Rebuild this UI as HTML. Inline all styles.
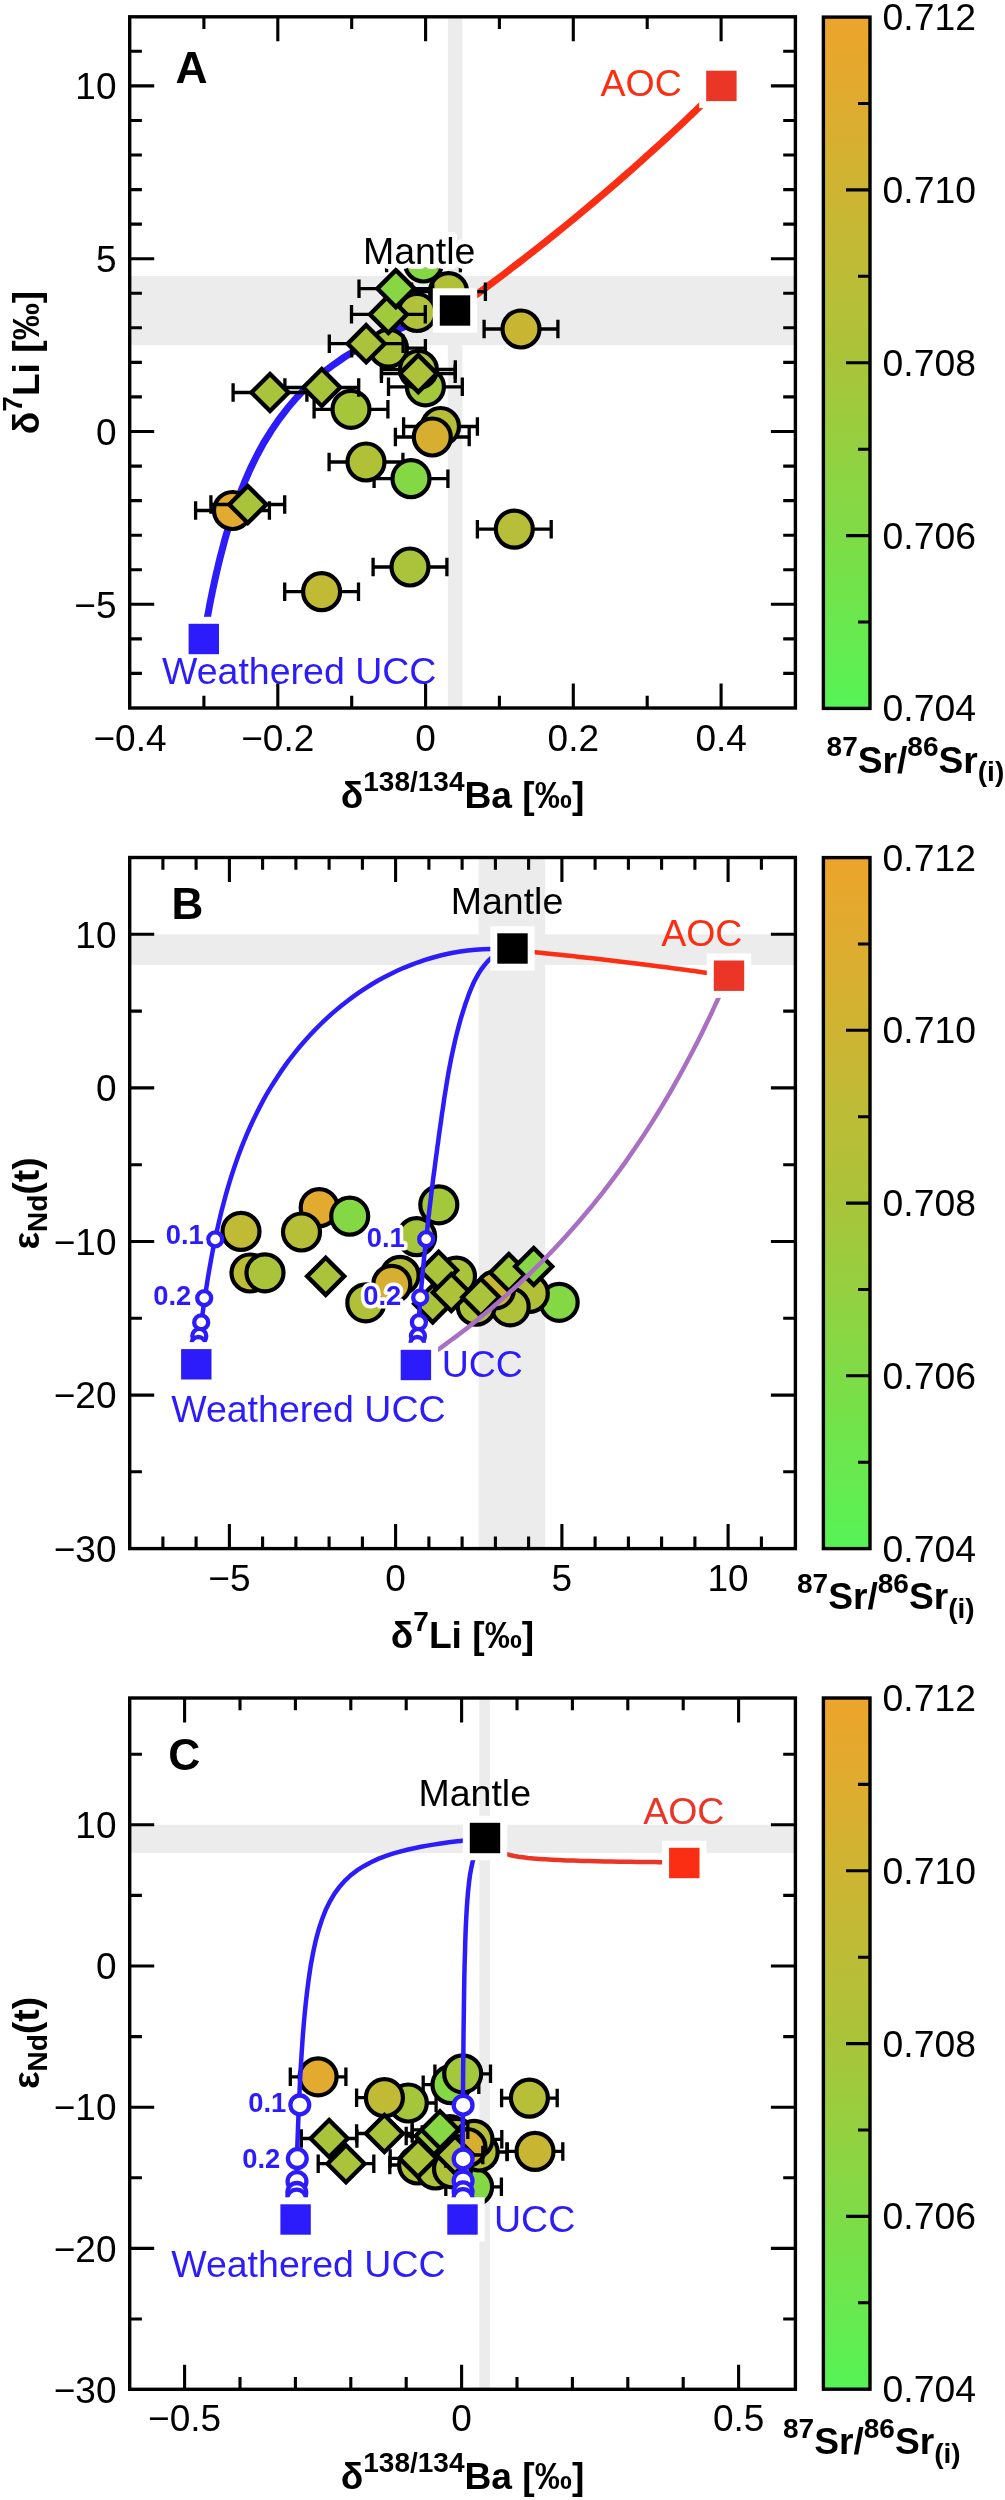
<!DOCTYPE html><html><head><meta charset="utf-8"><title>Figure</title><style>html,body{margin:0;padding:0;background:#fff}svg{display:block;will-change:transform}</style></head><body>
<svg width="1005" height="2500" viewBox="0 0 1005 2500" font-family='"Liberation Sans", sans-serif' fill="#000">
<defs><linearGradient id="cb" x1="0" y1="0" x2="0" y2="1">
<stop offset="0.000" stop-color="#eda42c"/>
<stop offset="0.125" stop-color="#deac2f"/>
<stop offset="0.250" stop-color="#ceb432"/>
<stop offset="0.375" stop-color="#bcbc36"/>
<stop offset="0.500" stop-color="#a9c43a"/>
<stop offset="0.625" stop-color="#94d040"/>
<stop offset="0.750" stop-color="#7edc46"/>
<stop offset="0.875" stop-color="#6ae84e"/>
<stop offset="1.000" stop-color="#56f355"/>
</linearGradient></defs>
<rect width="1005" height="2500" fill="#fff"/>
<rect x="129.7" y="276.0" width="665.7" height="69.1" fill="#ebeceb"/>
<rect x="447.9" y="16.8" width="14.4" height="691.2" fill="#ebeceb"/>
<path d="M455.1 310.1 L455.0 310.1 L455.0 310.1 L455.0 310.1 L454.9 310.1 L454.9 310.1 L454.9 310.1 L454.8 310.1 L454.8 310.1 L454.7 310.2 L454.6 310.2 L454.6 310.2 L454.5 310.2 L454.4 310.3 L454.2 310.3 L454.1 310.3 L453.9 310.4 L453.7 310.4 L453.5 310.5 L453.2 310.6 L452.9 310.7 L452.5 310.8 L452.1 310.9 L451.6 311.0 L451.0 311.2 L450.4 311.4 L449.6 311.6 L448.7 311.9 L447.6 312.2 L446.4 312.5 L445.0 312.9 L443.4 313.4 L441.6 314.0 L439.5 314.6 L437.0 315.4 L434.3 316.3 L431.1 317.3 L427.5 318.5 L423.5 319.8 L418.9 321.4 L413.9 323.2 L408.3 325.3 L402.1 327.7 L395.3 330.5 L388.0 333.7 L380.1 337.3 L371.7 341.5 L362.9 346.1 L353.7 351.4 L344.2 357.3 L334.5 364.0 L324.8 371.3 L315.1 379.4 L305.6 388.2 L296.4 397.8 L287.6 408.1 L279.2 419.1 L271.3 430.6 L263.9 442.6 L257.1 455.0 L250.9 467.6 L245.3 480.3 L240.2 492.9 L235.7 505.2 L231.6 517.3 L228.0 528.8 L224.8 539.8 L222.1 550.1 L219.6 559.6 L217.5 568.5 L215.6 576.6 L214.0 583.9 L212.6 590.5 L211.4 596.4 L210.3 601.7 L209.4 606.4 L208.7 610.5 L208.0 614.2 L207.4 617.3 L206.9 620.1 L206.5 622.5 L206.1 624.6 L205.8 626.5 L205.5 628.0 L205.3 629.4 L205.1 630.6 L204.9 631.6 L204.8 632.5 L204.6 633.2 L204.5 633.9 L204.4 634.4 L204.4 634.9 L204.3 635.3 L204.2 635.7 L204.2 636.0 L204.1 636.2 L204.1 636.5 L204.1 636.7 L204.1 636.8 L204.0 637.0 L204.0 637.1 L204.0 637.2 L204.0 637.3 L204.0 637.3 L204.0 637.4 L203.9 637.5 L203.9 637.5 L203.9 637.6 L203.9 637.6 L203.9 637.6 L203.9 637.6 L203.9 637.7 L203.9 637.7 L203.9 637.7 L203.9 637.7 L203.9 637.7 L203.9 637.7 L203.9 637.7 L203.9 637.8 L203.9 637.8 L203.9 637.8 L203.9 637.8" stroke="#2c1bfa" stroke-width="7" fill="none"/>
<path d="M455.1 310.1 L455.1 310.0 L455.2 310.0 L455.2 310.0 L455.2 310.0 L455.2 310.0 L455.2 310.0 L455.2 310.0 L455.2 310.0 L455.2 310.0 L455.2 310.0 L455.3 309.9 L455.3 309.9 L455.3 309.9 L455.3 309.9 L455.4 309.9 L455.4 309.8 L455.5 309.8 L455.5 309.7 L455.6 309.7 L455.7 309.6 L455.8 309.6 L455.9 309.5 L456.1 309.4 L456.2 309.3 L456.4 309.1 L456.6 309.0 L456.9 308.8 L457.1 308.6 L457.5 308.4 L457.9 308.1 L458.3 307.7 L458.9 307.4 L459.5 306.9 L460.2 306.4 L461.0 305.8 L462.0 305.1 L463.1 304.3 L464.4 303.4 L465.9 302.3 L467.6 301.0 L469.6 299.6 L471.8 297.9 L474.4 296.0 L477.4 293.9 L480.8 291.4 L484.6 288.6 L488.9 285.4 L493.7 281.7 L499.1 277.7 L505.1 273.2 L511.7 268.1 L518.9 262.6 L526.7 256.6 L535.1 250.0 L544.0 243.0 L553.3 235.5 L563.1 227.6 L573.2 219.4 L583.4 210.9 L593.7 202.3 L603.9 193.6 L614.0 185.0 L623.7 176.5 L633.0 168.3 L641.9 160.4 L650.2 152.9 L658.0 145.8 L665.1 139.3 L671.7 133.2 L677.6 127.7 L683.0 122.7 L687.7 118.2 L692.0 114.1 L695.8 110.5 L699.1 107.3 L702.0 104.5 L704.6 102.0 L706.8 99.8 L708.8 97.9 L710.5 96.2 L712.0 94.8 L713.2 93.6 L714.3 92.5 L715.3 91.5 L716.1 90.7 L716.8 90.0 L717.4 89.4 L718.0 88.9 L718.4 88.5 L718.8 88.1 L719.1 87.8 L719.4 87.5 L719.6 87.3 L719.9 87.0 L720.0 86.9 L720.2 86.7 L720.3 86.6 L720.4 86.5 L720.5 86.4 L720.6 86.3 L720.7 86.2 L720.8 86.2 L720.8 86.1 L720.9 86.1 L720.9 86.0 L720.9 86.0 L721.0 86.0 L721.0 85.9 L721.0 85.9 L721.0 85.9 L721.0 85.9 L721.0 85.9 L721.1 85.9 L721.1 85.9 L721.1 85.8 L721.1 85.8 L721.1 85.8 L721.1 85.8 L721.1 85.8 L721.1 85.8 L721.1 85.8" stroke="#fb2d12" stroke-width="7" fill="none"/>
<path d="M195.6 510.5h73.8M195.6 501.2v18.5M269.4 501.2v18.5" stroke="#000" stroke-width="3.3" fill="none"/>
<path d="M477.4 529.1h73.8M477.4 519.9v18.5M551.2 519.9v18.5" stroke="#000" stroke-width="3.3" fill="none"/>
<path d="M284.7 591.7h73.8M284.7 582.5v18.5M358.5 582.5v18.5" stroke="#000" stroke-width="3.3" fill="none"/>
<path d="M373.1 567.0h73.8M373.1 557.8v18.5M446.9 557.8v18.5" stroke="#000" stroke-width="3.3" fill="none"/>
<path d="M386.6 263.0h73.8M386.6 253.8v18.5M460.4 253.8v18.5" stroke="#000" stroke-width="3.3" fill="none"/>
<path d="M411.6 291.6h73.8M411.6 282.4v18.5M485.4 282.4v18.5" stroke="#000" stroke-width="3.3" fill="none"/>
<path d="M380.1 312.5h73.8M380.1 303.2v18.5M453.9 303.2v18.5" stroke="#000" stroke-width="3.3" fill="none"/>
<path d="M484.1 329.0h73.8M484.1 319.8v18.5M557.9 319.8v18.5" stroke="#000" stroke-width="3.3" fill="none"/>
<path d="M351.6 348.2h73.8M351.6 338.9v18.5M425.4 338.9v18.5" stroke="#000" stroke-width="3.3" fill="none"/>
<path d="M329.1 462.0h73.8M329.1 452.8v18.5M402.9 452.8v18.5" stroke="#000" stroke-width="3.3" fill="none"/>
<path d="M374.1 478.7h73.8M374.1 469.4v18.5M447.9 469.4v18.5" stroke="#000" stroke-width="3.3" fill="none"/>
<path d="M314.1 409.3h73.8M314.1 400.1v18.5M387.9 400.1v18.5" stroke="#000" stroke-width="3.3" fill="none"/>
<path d="M388.5 386.8h73.8M388.5 377.6v18.5M462.3 377.6v18.5" stroke="#000" stroke-width="3.3" fill="none"/>
<path d="M381.5 369.5h73.8M381.5 360.2v18.5M455.3 360.2v18.5" stroke="#000" stroke-width="3.3" fill="none"/>
<path d="M403.6 426.5h73.8M403.6 417.2v18.5M477.4 417.2v18.5" stroke="#000" stroke-width="3.3" fill="none"/>
<path d="M395.4 437.0h73.8M395.4 427.8v18.5M469.2 427.8v18.5" stroke="#000" stroke-width="3.3" fill="none"/>
<circle cx="232.5" cy="510.5" r="18.5" fill="#e2aa2e" stroke="#000" stroke-width="4.2"/>
<circle cx="514.3" cy="529.1" r="18.5" fill="#b7be37" stroke="#000" stroke-width="4.2"/>
<circle cx="321.6" cy="591.7" r="18.5" fill="#c1ba35" stroke="#000" stroke-width="4.2"/>
<circle cx="410.0" cy="567.0" r="18.5" fill="#abc33a" stroke="#000" stroke-width="4.2"/>
<circle cx="423.5" cy="263.0" r="18.5" fill="#84d844" stroke="#000" stroke-width="4.2"/>
<circle cx="448.5" cy="291.6" r="18.5" fill="#b2c038" stroke="#000" stroke-width="4.2"/>
<circle cx="417.0" cy="312.5" r="18.5" fill="#afc239" stroke="#000" stroke-width="4.2"/>
<circle cx="521.0" cy="329.0" r="18.5" fill="#c8b633" stroke="#000" stroke-width="4.2"/>
<circle cx="388.5" cy="348.2" r="18.5" fill="#abc33a" stroke="#000" stroke-width="4.2"/>
<circle cx="366.0" cy="462.0" r="18.5" fill="#b0c138" stroke="#000" stroke-width="4.2"/>
<circle cx="411.0" cy="478.7" r="18.5" fill="#84d844" stroke="#000" stroke-width="4.2"/>
<circle cx="351.0" cy="409.3" r="18.5" fill="#a5c63b" stroke="#000" stroke-width="4.2"/>
<circle cx="425.4" cy="386.8" r="18.5" fill="#a3c83c" stroke="#000" stroke-width="4.2"/>
<circle cx="418.4" cy="369.5" r="18.5" fill="#abc33a" stroke="#000" stroke-width="4.2"/>
<circle cx="440.5" cy="426.5" r="18.5" fill="#b6be37" stroke="#000" stroke-width="4.2"/>
<circle cx="432.3" cy="437.0" r="18.5" fill="#d7af30" stroke="#000" stroke-width="4.2"/>
<path d="M210.9 504.5h73.8M210.9 495.2v18.5M284.7 495.2v18.5" stroke="#000" stroke-width="3.3" fill="none"/>
<path d="M233.1 392.5h73.8M233.1 383.2v18.5M306.9 383.2v18.5" stroke="#000" stroke-width="3.3" fill="none"/>
<path d="M284.9 387.5h73.8M284.9 378.2v18.5M358.7 378.2v18.5" stroke="#000" stroke-width="3.3" fill="none"/>
<path d="M381.4 373.6h73.8M381.4 364.4v18.5M455.2 364.4v18.5" stroke="#000" stroke-width="3.3" fill="none"/>
<path d="M329.3 343.7h73.8M329.3 334.4v18.5M403.1 334.4v18.5" stroke="#000" stroke-width="3.3" fill="none"/>
<path d="M351.5 314.4h73.8M351.5 305.1v18.5M425.3 305.1v18.5" stroke="#000" stroke-width="3.3" fill="none"/>
<path d="M359.0 288.6h73.8M359.0 279.4v18.5M432.8 279.4v18.5" stroke="#000" stroke-width="3.3" fill="none"/>
<path d="M247.8 486.0l18.5 18.5l-18.5 18.5l-18.5 -18.5z" fill="#a9c43a" stroke="#000" stroke-width="4.4"/>
<path d="M270.0 374.0l18.5 18.5l-18.5 18.5l-18.5 -18.5z" fill="#a9c43a" stroke="#000" stroke-width="4.4"/>
<path d="M321.8 369.0l18.5 18.5l-18.5 18.5l-18.5 -18.5z" fill="#a9c43a" stroke="#000" stroke-width="4.4"/>
<path d="M418.3 355.1l18.5 18.5l-18.5 18.5l-18.5 -18.5z" fill="#adc239" stroke="#000" stroke-width="4.4"/>
<path d="M366.2 325.2l18.5 18.5l-18.5 18.5l-18.5 -18.5z" fill="#abc33a" stroke="#000" stroke-width="4.4"/>
<path d="M388.4 295.9l18.5 18.5l-18.5 18.5l-18.5 -18.5z" fill="#a0c93c" stroke="#000" stroke-width="4.4"/>
<path d="M395.9 270.1l18.5 18.5l-18.5 18.5l-18.5 -18.5z" fill="#87d744" stroke="#000" stroke-width="4.4"/>
<text x="362.9" y="264.3" font-size="37.5" fill="#000" stroke="#fff" stroke-width="10" stroke-linejoin="round" paint-order="stroke">Mantle</text>
<rect x="439.8" y="295.3" width="30.4" height="30.4" fill="#000" stroke="#fff" stroke-width="14" paint-order="stroke"/>
<rect x="706.2" y="70.7" width="30.4" height="30.4" fill="#eb3527" stroke="#fff" stroke-width="14" paint-order="stroke"/>
<rect x="188.6" y="623.8" width="30.4" height="30.4" fill="#2c1bfa" stroke="#fff" stroke-width="14" paint-order="stroke"/>
<text x="600.5" y="96.1" font-size="37.5" fill="#fb2d12">AOC</text>
<text x="162.0" y="683.8" font-size="37.5" fill="#2c1bfa">Weathered UCC</text>
<path d="M277.8 16.8v24.5M277.8 708.0v-24.5M425.6 16.8v24.5M425.6 708.0v-24.5M573.3 16.8v24.5M573.3 708.0v-24.5M721.1 16.8v24.5M721.1 708.0v-24.5M203.9 16.8v12.2M203.9 708.0v-12.2M351.7 16.8v12.2M351.7 708.0v-12.2M499.4 16.8v12.2M499.4 708.0v-12.2M647.2 16.8v12.2M647.2 708.0v-12.2M129.7 604.3h24.5M795.4 604.3h-24.5M129.7 431.5h24.5M795.4 431.5h-24.5M129.7 258.7h24.5M795.4 258.7h-24.5M129.7 85.9h24.5M795.4 85.9h-24.5M129.7 673.4h12.2M795.4 673.4h-12.2M129.7 638.9h12.2M795.4 638.9h-12.2M129.7 569.7h12.2M795.4 569.7h-12.2M129.7 535.2h12.2M795.4 535.2h-12.2M129.7 500.6h12.2M795.4 500.6h-12.2M129.7 466.1h12.2M795.4 466.1h-12.2M129.7 396.9h12.2M795.4 396.9h-12.2M129.7 362.4h12.2M795.4 362.4h-12.2M129.7 327.8h12.2M795.4 327.8h-12.2M129.7 293.3h12.2M795.4 293.3h-12.2M129.7 224.1h12.2M795.4 224.1h-12.2M129.7 189.6h12.2M795.4 189.6h-12.2M129.7 155.0h12.2M795.4 155.0h-12.2M129.7 120.5h12.2M795.4 120.5h-12.2M129.7 51.3h12.2M795.4 51.3h-12.2" stroke="#000" stroke-width="3.1" fill="none"/>
<rect x="129.7" y="16.8" width="665.7" height="691.2" fill="none" stroke="#000" stroke-width="3.4"/>
<text x="130.0" y="750.9" font-size="37" text-anchor="middle">−0.4</text>
<text x="277.8" y="750.9" font-size="37" text-anchor="middle">−0.2</text>
<text x="425.6" y="750.9" font-size="37" text-anchor="middle">0</text>
<text x="573.3" y="750.9" font-size="37" text-anchor="middle">0.2</text>
<text x="721.1" y="750.9" font-size="37" text-anchor="middle">0.4</text>
<text x="116.5" y="617.5" font-size="37" text-anchor="end">−5</text>
<text x="116.5" y="444.7" font-size="37" text-anchor="end">0</text>
<text x="116.5" y="271.9" font-size="37" text-anchor="end">5</text>
<text x="116.5" y="99.1" font-size="37" text-anchor="end">10</text>
<text x="175.4" y="83.1" font-size="44.4" font-weight="bold">A</text>
<text x="462.5" y="807.6" font-size="37.2" font-weight="bold" text-anchor="middle">δ<tspan font-size="28" dy="-16.5">138/134</tspan><tspan dy="16.5">Ba [‰]</tspan></text>
<text transform="translate(38.8,362.5) rotate(-90)" font-size="37.2" font-weight="bold" text-anchor="middle">δ<tspan font-size="28" dy="-16.5">7</tspan><tspan dy="16.5">Li [‰]</tspan></text>
<rect x="823.4" y="17.1" width="46.6" height="691.3" fill="url(#cb)" stroke="#000" stroke-width="3.4"/>
<path d="M870.0 103.5h-12M870.0 189.9h-24M870.0 276.3h-12M870.0 362.8h-24M870.0 449.2h-12M870.0 535.6h-24M870.0 622.0h-12" stroke="#000" stroke-width="3.1" fill="none"/>
<text x="882.6" y="30.1" font-size="37.3">0.712</text>
<text x="882.6" y="202.9" font-size="37.3">0.710</text>
<text x="882.6" y="375.8" font-size="37.3">0.708</text>
<text x="882.6" y="548.6" font-size="37.3">0.706</text>
<text x="882.6" y="721.4" font-size="37.3">0.704</text>
<text x="826.6" y="772.8" font-size="37.2" font-weight="bold"><tspan font-size="28" dy="-16.5">87</tspan><tspan dy="16.5">Sr/</tspan><tspan font-size="28" dy="-16.5">86</tspan><tspan dy="16.5">Sr</tspan><tspan font-size="28" dy="8.5">(i)</tspan></text>
<rect x="129.7" y="934.3" width="665.7" height="30.7" fill="#ebeceb"/>
<rect x="478.7" y="857.5" width="66.5" height="691.1" fill="#ebeceb"/>
<circle cx="319.2" cy="1207.6" r="18.5" fill="#e2aa2e" stroke="#000" stroke-width="4.2"/>
<circle cx="301.5" cy="1232.0" r="18.5" fill="#b7be37" stroke="#000" stroke-width="4.2"/>
<circle cx="241.0" cy="1231.4" r="18.5" fill="#c1ba35" stroke="#000" stroke-width="4.2"/>
<circle cx="250.0" cy="1273.0" r="18.5" fill="#bcbc36" stroke="#000" stroke-width="4.2"/>
<circle cx="265.0" cy="1272.8" r="18.5" fill="#abc33a" stroke="#000" stroke-width="4.2"/>
<circle cx="559.2" cy="1302.3" r="18.5" fill="#84d844" stroke="#000" stroke-width="4.2"/>
<circle cx="529.3" cy="1293.4" r="18.5" fill="#b2c038" stroke="#000" stroke-width="4.2"/>
<circle cx="510.2" cy="1306.8" r="18.5" fill="#afc239" stroke="#000" stroke-width="4.2"/>
<circle cx="495.4" cy="1289.8" r="18.5" fill="#c8b633" stroke="#000" stroke-width="4.2"/>
<circle cx="476.2" cy="1306.2" r="18.5" fill="#abc33a" stroke="#000" stroke-width="4.2"/>
<circle cx="365.8" cy="1302.8" r="18.5" fill="#b0c138" stroke="#000" stroke-width="4.2"/>
<circle cx="349.7" cy="1216.2" r="18.5" fill="#84d844" stroke="#000" stroke-width="4.2"/>
<circle cx="416.6" cy="1236.6" r="18.5" fill="#a5c63b" stroke="#000" stroke-width="4.2"/>
<circle cx="438.8" cy="1204.8" r="18.5" fill="#a3c83c" stroke="#000" stroke-width="4.2"/>
<circle cx="456.5" cy="1276.2" r="18.5" fill="#abc33a" stroke="#000" stroke-width="4.2"/>
<circle cx="400.1" cy="1275.4" r="18.5" fill="#b6be37" stroke="#000" stroke-width="4.2"/>
<circle cx="391.8" cy="1284.3" r="18.5" fill="#d7af30" stroke="#000" stroke-width="4.2"/>
<path d="M325.7 1257.8l18.5 18.5l-18.5 18.5l-18.5 -18.5z" fill="#a9c43a" stroke="#000" stroke-width="4.4"/>
<path d="M432.7 1285.3l18.5 18.5l-18.5 18.5l-18.5 -18.5z" fill="#a9c43a" stroke="#000" stroke-width="4.4"/>
<path d="M438.6 1251.8l18.5 18.5l-18.5 18.5l-18.5 -18.5z" fill="#a9c43a" stroke="#000" stroke-width="4.4"/>
<path d="M451.3 1274.0l18.5 18.5l-18.5 18.5l-18.5 -18.5z" fill="#adc239" stroke="#000" stroke-width="4.4"/>
<path d="M480.8 1278.8l18.5 18.5l-18.5 18.5l-18.5 -18.5z" fill="#abc33a" stroke="#000" stroke-width="4.4"/>
<path d="M508.8 1254.0l18.5 18.5l-18.5 18.5l-18.5 -18.5z" fill="#a0c93c" stroke="#000" stroke-width="4.4"/>
<path d="M533.7 1248.0l18.5 18.5l-18.5 18.5l-18.5 -18.5z" fill="#87d744" stroke="#000" stroke-width="4.4"/>
<path d="M513.8 949.5 L505.9 949.0 L498.2 948.8 L490.4 948.9 L482.8 949.2 L475.2 949.7 L467.7 950.5 L460.3 951.6 L452.9 952.8 L445.7 954.3 L438.5 956.0 L431.4 958.0 L424.3 960.1 L417.4 962.5 L410.6 965.1 L403.8 967.8 L397.1 970.8 L390.6 973.9 L384.1 977.3 L377.7 980.8 L371.4 984.5 L365.3 988.4 L359.2 992.4 L353.2 996.6 L347.4 1001.0 L341.6 1005.5 L336.0 1010.1 L330.5 1014.9 L325.1 1019.9 L319.8 1025.0 L314.7 1030.2 L309.6 1035.5 L304.7 1041.0 L299.9 1046.5 L295.3 1052.2 L290.7 1058.0 L286.3 1063.9 L282.1 1069.9 L278.0 1076.0 L274.0 1082.2 L270.1 1088.4 L266.4 1094.7 L262.8 1101.1 L259.4 1107.6 L256.1 1114.2 L252.9 1120.8 L249.8 1127.5 L246.9 1134.2 L244.0 1141.0 L241.3 1147.9 L238.7 1154.8 L236.2 1161.8 L233.8 1168.8 L231.5 1175.8 L229.3 1182.9 L227.2 1190.0 L225.2 1197.2 L223.3 1204.3 L221.4 1211.5 L219.7 1218.8 L218.0 1226.0 L216.4 1233.3 L214.8 1240.5 L213.3 1247.8 L211.9 1255.1 L210.6 1262.4 L209.3 1269.7 L208.0 1277.0 L206.9 1284.3 L205.7 1291.6 L204.6 1298.8 L203.6 1306.1 L202.6 1313.3 L201.6 1320.5 L200.6 1327.7 L199.7 1334.9 L198.8 1342.0 L198.0 1349.1 L197.1 1356.2 L196.3 1363.2" stroke="#2c1bfa" stroke-width="4.5" fill="none"/>
<path d="M511.9 947.1 L506.3 949.0 L501.1 951.3 L496.4 954.1 L492.1 957.3 L488.2 960.8 L484.7 964.8 L481.5 969.0 L478.5 973.6 L475.9 978.3 L473.4 983.3 L471.2 988.4 L469.1 993.6 L467.2 998.9 L465.3 1004.2 L463.6 1009.6 L461.9 1015.0 L460.3 1020.4 L458.8 1025.8 L457.4 1031.3 L456.0 1036.7 L454.7 1042.2 L453.5 1047.7 L452.3 1053.2 L451.1 1058.7 L450.1 1064.2 L449.0 1069.8 L448.0 1075.3 L447.1 1080.9 L446.2 1086.4 L445.3 1092.0 L444.4 1097.5 L443.6 1103.1 L442.8 1108.7 L441.9 1114.2 L441.2 1119.8 L440.4 1125.4 L439.6 1130.9 L438.8 1136.5 L438.1 1142.1 L437.3 1147.6 L436.6 1153.2 L435.8 1158.7 L435.1 1164.3 L434.4 1169.9 L433.6 1175.4 L432.9 1181.0 L432.2 1186.5 L431.5 1192.1 L430.9 1197.6 L430.2 1203.2 L429.5 1208.7 L428.9 1214.3 L428.2 1219.8 L427.6 1225.4 L427.0 1230.9 L426.3 1236.5 L425.8 1242.1 L425.2 1247.6 L424.6 1253.2 L424.0 1258.7 L423.5 1264.3 L422.9 1269.9 L422.4 1275.5 L421.9 1281.0 L421.4 1286.6 L420.9 1292.2 L420.5 1297.8 L420.0 1303.4 L419.6 1309.0 L419.1 1314.6 L418.7 1320.2 L418.4 1325.8 L418.0 1331.4 L417.6 1337.0 L417.3 1342.6 L417.0 1348.2 L416.7 1353.9 L416.4 1359.5 L416.1 1365.1" stroke="#2c1bfa" stroke-width="4.5" fill="none"/>
<path d="M512.0 949.9 L512.0 949.9 L512.0 949.9 L512.0 949.9 L512.0 949.9 L512.0 949.9 L512.0 949.9 L512.0 949.9 L512.1 949.9 L512.1 949.9 L512.1 949.9 L512.1 949.9 L512.1 949.9 L512.1 949.9 L512.2 949.9 L512.2 949.9 L512.2 949.9 L512.3 949.9 L512.3 949.9 L512.4 949.9 L512.5 949.9 L512.6 949.9 L512.7 949.9 L512.8 950.0 L512.9 950.0 L513.1 950.0 L513.3 950.0 L513.5 950.0 L513.7 950.0 L514.0 950.1 L514.3 950.1 L514.7 950.1 L515.2 950.2 L515.7 950.2 L516.3 950.3 L517.0 950.4 L517.9 950.5 L518.8 950.6 L519.9 950.7 L521.2 950.8 L522.7 950.9 L524.4 951.1 L526.3 951.3 L528.5 951.5 L531.1 951.8 L533.9 952.1 L537.2 952.4 L540.8 952.8 L544.9 953.2 L549.5 953.7 L554.5 954.2 L560.1 954.8 L566.1 955.4 L572.6 956.1 L579.6 956.9 L587.0 957.7 L594.7 958.6 L602.8 959.5 L611.0 960.5 L619.3 961.4 L627.7 962.4 L635.9 963.5 L644.0 964.5 L651.8 965.5 L659.3 966.4 L666.3 967.3 L672.9 968.2 L679.0 969.0 L684.7 969.8 L689.8 970.5 L694.4 971.1 L698.6 971.7 L702.3 972.3 L705.6 972.7 L708.6 973.1 L711.1 973.5 L713.4 973.9 L715.4 974.1 L717.1 974.4 L718.6 974.6 L719.9 974.8 L721.1 975.0 L722.0 975.1 L722.9 975.2 L723.6 975.4 L724.3 975.4 L724.8 975.5 L725.3 975.6 L725.7 975.7 L726.0 975.7 L726.3 975.8 L726.6 975.8 L726.8 975.8 L727.0 975.9 L727.1 975.9 L727.3 975.9 L727.4 975.9 L727.5 975.9 L727.6 975.9 L727.7 976.0 L727.7 976.0 L727.8 976.0 L727.8 976.0 L727.9 976.0 L727.9 976.0 L727.9 976.0 L727.9 976.0 L728.0 976.0 L728.0 976.0 L728.0 976.0 L728.0 976.0 L728.0 976.0 L728.0 976.0 L728.0 976.0 L728.1 976.0 L728.1 976.0 L728.1 976.0 L728.1 976.0 L728.1 976.0 L728.1 976.0 L728.1 976.0 L728.1 976.0" stroke="#fb2d12" stroke-width="4.5" fill="none"/>
<path d="M728.1 976.0 L728.1 976.1 L728.1 976.1 L728.1 976.1 L728.1 976.1 L728.1 976.1 L728.1 976.1 L728.1 976.1 L728.1 976.1 L728.0 976.2 L728.0 976.2 L728.0 976.2 L728.0 976.2 L728.0 976.3 L728.0 976.3 L728.0 976.4 L727.9 976.4 L727.9 976.5 L727.9 976.6 L727.8 976.7 L727.8 976.8 L727.7 976.9 L727.7 977.0 L727.6 977.2 L727.5 977.4 L727.4 977.6 L727.3 977.9 L727.2 978.2 L727.0 978.6 L726.8 979.0 L726.6 979.5 L726.4 980.0 L726.1 980.7 L725.8 981.5 L725.4 982.4 L724.9 983.4 L724.4 984.6 L723.8 986.0 L723.1 987.6 L722.2 989.5 L721.3 991.7 L720.2 994.2 L718.9 997.0 L717.4 1000.3 L715.6 1004.1 L713.6 1008.4 L711.4 1013.3 L708.7 1018.9 L705.7 1025.1 L702.3 1032.2 L698.4 1040.0 L693.9 1048.7 L688.9 1058.3 L683.3 1068.8 L677.0 1080.2 L670.1 1092.4 L662.4 1105.4 L654.0 1119.1 L644.9 1133.4 L635.1 1148.1 L624.7 1163.1 L613.7 1178.1 L602.3 1193.1 L590.5 1207.8 L578.5 1222.0 L566.4 1235.7 L554.4 1248.7 L542.6 1261.0 L531.1 1272.3 L520.1 1282.8 L509.6 1292.4 L499.7 1301.1 L490.6 1309.0 L482.1 1316.0 L474.3 1322.3 L467.3 1327.9 L461.0 1332.8 L455.3 1337.1 L450.2 1340.8 L445.7 1344.1 L441.8 1347.0 L438.3 1349.5 L435.2 1351.7 L432.6 1353.5 L430.2 1355.2 L428.2 1356.6 L426.5 1357.8 L424.9 1358.8 L423.6 1359.7 L422.5 1360.5 L421.5 1361.1 L420.7 1361.7 L420.0 1362.2 L419.3 1362.6 L418.8 1363.0 L418.3 1363.3 L417.9 1363.5 L417.6 1363.8 L417.3 1364.0 L417.1 1364.1 L416.8 1364.3 L416.7 1364.4 L416.5 1364.5 L416.4 1364.6 L416.2 1364.7 L416.1 1364.7 L416.1 1364.8 L416.0 1364.8 L415.9 1364.9 L415.9 1364.9 L415.8 1365.0 L415.8 1365.0 L415.8 1365.0 L415.7 1365.0 L415.7 1365.0 L415.7 1365.1 L415.7 1365.1 L415.6 1365.1 L415.6 1365.1 L415.6 1365.1 L415.6 1365.1 L415.6 1365.1" stroke="#a96fc2" stroke-width="4.5" fill="none"/>
<circle cx="215.2" cy="1239.4" r="7.0" fill="#fff" stroke="#2c1bfa" stroke-width="4.3"/>
<circle cx="204.2" cy="1298.1" r="7.0" fill="#fff" stroke="#2c1bfa" stroke-width="4.3"/>
<circle cx="201.2" cy="1322.4" r="7.0" fill="#fff" stroke="#2c1bfa" stroke-width="4.3"/>
<circle cx="199.3" cy="1335.9" r="7.0" fill="#fff" stroke="#2c1bfa" stroke-width="4.3"/>
<circle cx="198.3" cy="1344.0" r="7.0" fill="#fff" stroke="#2c1bfa" stroke-width="4.3"/>
<circle cx="426.2" cy="1239.1" r="7.0" fill="#fff" stroke="#2c1bfa" stroke-width="4.3"/>
<circle cx="420.2" cy="1297.4" r="7.0" fill="#fff" stroke="#2c1bfa" stroke-width="4.3"/>
<circle cx="418.9" cy="1322.2" r="7.0" fill="#fff" stroke="#2c1bfa" stroke-width="4.3"/>
<circle cx="417.9" cy="1336.2" r="7.0" fill="#fff" stroke="#2c1bfa" stroke-width="4.3"/>
<circle cx="417.2" cy="1344.0" r="7.0" fill="#fff" stroke="#2c1bfa" stroke-width="4.3"/>
<text x="203.8" y="1243.8" font-size="27.4" fill="#2c1bfa" text-anchor="end" font-weight="bold" stroke="#fff" stroke-width="7" stroke-linejoin="round" paint-order="stroke">0.1</text>
<text x="191.3" y="1304.5" font-size="27.4" fill="#2c1bfa" text-anchor="end" font-weight="bold" stroke="#fff" stroke-width="7" stroke-linejoin="round" paint-order="stroke">0.2</text>
<text x="404.8" y="1247.0" font-size="27.4" fill="#2c1bfa" text-anchor="end" font-weight="bold" stroke="#fff" stroke-width="7" stroke-linejoin="round" paint-order="stroke">0.1</text>
<text x="401.3" y="1304.6" font-size="27.4" fill="#2c1bfa" text-anchor="end" font-weight="bold" stroke="#fff" stroke-width="7" stroke-linejoin="round" paint-order="stroke">0.2</text>
<rect x="181.1" y="1349.1" width="30.4" height="30.4" fill="#2c1bfa" stroke="#fff" stroke-width="14" paint-order="stroke"/>
<rect x="400.7" y="1349.8" width="30.4" height="30.4" fill="#2c1bfa" stroke="#fff" stroke-width="14" paint-order="stroke"/>
<rect x="497.3" y="933.3" width="30.4" height="30.4" fill="#000" stroke="#fff" stroke-width="14" paint-order="stroke"/>
<rect x="713.8" y="960.5" width="30.4" height="30.4" fill="#eb3527" stroke="#fff" stroke-width="14" paint-order="stroke"/>
<text x="450.7" y="913.7" font-size="37.5" fill="#000">Mantle</text>
<text x="661.2" y="946.2" font-size="37.5" fill="#fb2d12">AOC</text>
<text x="171.2" y="1422.3" font-size="37.5" fill="#2c1bfa">Weathered UCC</text>
<text x="441.7" y="1376.7" font-size="37.5" fill="#2c1bfa">UCC</text>
<path d="M229.4 857.5v24.5M229.4 1548.6v-24.5M395.6 857.5v24.5M395.6 1548.6v-24.5M561.9 857.5v24.5M561.9 1548.6v-24.5M728.1 857.5v24.5M728.1 1548.6v-24.5M162.9 857.5v12.2M162.9 1548.6v-12.2M196.1 857.5v12.2M196.1 1548.6v-12.2M262.6 857.5v12.2M262.6 1548.6v-12.2M295.9 857.5v12.2M295.9 1548.6v-12.2M329.1 857.5v12.2M329.1 1548.6v-12.2M362.4 857.5v12.2M362.4 1548.6v-12.2M428.9 857.5v12.2M428.9 1548.6v-12.2M462.1 857.5v12.2M462.1 1548.6v-12.2M495.4 857.5v12.2M495.4 1548.6v-12.2M528.6 857.5v12.2M528.6 1548.6v-12.2M595.1 857.5v12.2M595.1 1548.6v-12.2M628.4 857.5v12.2M628.4 1548.6v-12.2M661.6 857.5v12.2M661.6 1548.6v-12.2M694.9 857.5v12.2M694.9 1548.6v-12.2M761.4 857.5v12.2M761.4 1548.6v-12.2M129.7 1395.1h24.5M795.4 1395.1h-24.5M129.7 1241.5h24.5M795.4 1241.5h-24.5M129.7 1087.9h24.5M795.4 1087.9h-24.5M129.7 934.3h24.5M795.4 934.3h-24.5M129.7 1471.8h12.2M795.4 1471.8h-12.2M129.7 1318.3h12.2M795.4 1318.3h-12.2M129.7 1164.7h12.2M795.4 1164.7h-12.2M129.7 1011.1h12.2M795.4 1011.1h-12.2" stroke="#000" stroke-width="3.1" fill="none"/>
<rect x="129.7" y="857.5" width="665.7" height="691.1" fill="none" stroke="#000" stroke-width="3.4"/>
<text x="229.4" y="1591.0" font-size="37" text-anchor="middle">−5</text>
<text x="395.6" y="1591.0" font-size="37" text-anchor="middle">0</text>
<text x="561.9" y="1591.0" font-size="37" text-anchor="middle">5</text>
<text x="728.1" y="1591.0" font-size="37" text-anchor="middle">10</text>
<text x="116.5" y="1561.8" font-size="37" text-anchor="end">−30</text>
<text x="116.5" y="1408.3" font-size="37" text-anchor="end">−20</text>
<text x="116.5" y="1254.7" font-size="37" text-anchor="end">−10</text>
<text x="116.5" y="1101.1" font-size="37" text-anchor="end">0</text>
<text x="116.5" y="947.5" font-size="37" text-anchor="end">10</text>
<text x="171.4" y="919.1" font-size="44" font-weight="bold">B</text>
<text x="462.5" y="1647.5" font-size="37.2" font-weight="bold" text-anchor="middle">δ<tspan font-size="28" dy="-16.5">7</tspan><tspan dy="16.5">Li [‰]</tspan></text>
<text transform="translate(38.8,1203.5) rotate(-90)" font-size="37.2" font-weight="bold" text-anchor="middle">ε<tspan font-size="28" dy="8.5">Nd</tspan><tspan dy="-8.5">(t)</tspan></text>
<rect x="823.4" y="857.6" width="46.6" height="691.0" fill="url(#cb)" stroke="#000" stroke-width="3.4"/>
<path d="M870.0 944.0h-12M870.0 1030.3h-24M870.0 1116.7h-12M870.0 1203.1h-24M870.0 1289.5h-12M870.0 1375.8h-24M870.0 1462.2h-12" stroke="#000" stroke-width="3.1" fill="none"/>
<text x="882.6" y="870.6" font-size="37.3">0.712</text>
<text x="882.6" y="1043.3" font-size="37.3">0.710</text>
<text x="882.6" y="1216.1" font-size="37.3">0.708</text>
<text x="882.6" y="1388.8" font-size="37.3">0.706</text>
<text x="882.6" y="1561.6" font-size="37.3">0.704</text>
<text x="797.0" y="1609.0" font-size="37.2" font-weight="bold"><tspan font-size="28" dy="-16.5">87</tspan><tspan dy="16.5">Sr/</tspan><tspan font-size="28" dy="-16.5">86</tspan><tspan dy="16.5">Sr</tspan><tspan font-size="28" dy="8.5">(i)</tspan></text>
<rect x="129.7" y="1824.8" width="665.7" height="28.2" fill="#ebeceb"/>
<rect x="479.4" y="1698.0" width="10.6" height="691.3" fill="#ebeceb"/>
<path d="M290.3 2076.8h55.6M290.3 2067.6v18.5M345.9 2067.6v18.5" stroke="#000" stroke-width="3.3" fill="none"/>
<path d="M501.6 2098.1h55.6M501.6 2088.8v18.5M557.2 2088.8v18.5" stroke="#000" stroke-width="3.3" fill="none"/>
<path d="M380.5 2103.0h55.6M380.5 2093.8v18.5M436.1 2093.8v18.5" stroke="#000" stroke-width="3.3" fill="none"/>
<path d="M356.6 2097.7h55.6M356.6 2088.4v18.5M412.2 2088.4v18.5" stroke="#000" stroke-width="3.3" fill="none"/>
<path d="M422.2 2134.5h55.6M422.2 2125.2v18.5M477.8 2125.2v18.5" stroke="#000" stroke-width="3.3" fill="none"/>
<path d="M428.8 2137.3h55.6M428.8 2128.1v18.5M484.4 2128.1v18.5" stroke="#000" stroke-width="3.3" fill="none"/>
<path d="M445.8 2186.8h55.6M445.8 2177.6v18.5M501.4 2177.6v18.5" stroke="#000" stroke-width="3.3" fill="none"/>
<path d="M389.8 2165.0h55.6M389.8 2155.8v18.5M445.4 2155.8v18.5" stroke="#000" stroke-width="3.3" fill="none"/>
<path d="M407.6 2170.0h55.6M407.6 2160.8v18.5M463.2 2160.8v18.5" stroke="#000" stroke-width="3.3" fill="none"/>
<path d="M424.7 2168.8h55.6M424.7 2159.6v18.5M480.3 2159.6v18.5" stroke="#000" stroke-width="3.3" fill="none"/>
<path d="M507.2 2151.4h55.6M507.2 2142.2v18.5M562.8 2142.2v18.5" stroke="#000" stroke-width="3.3" fill="none"/>
<path d="M423.2 2084.7h55.6M423.2 2075.4v18.5M478.8 2075.4v18.5" stroke="#000" stroke-width="3.3" fill="none"/>
<path d="M434.9 2073.8h55.6M434.9 2064.6v18.5M490.5 2064.6v18.5" stroke="#000" stroke-width="3.3" fill="none"/>
<path d="M451.4 2152.0h55.6M451.4 2142.8v18.5M507.0 2142.8v18.5" stroke="#000" stroke-width="3.3" fill="none"/>
<path d="M446.2 2139.3h55.6M446.2 2130.1v18.5M501.8 2130.1v18.5" stroke="#000" stroke-width="3.3" fill="none"/>
<path d="M439.2 2147.5h55.6M439.2 2138.2v18.5M494.8 2138.2v18.5" stroke="#000" stroke-width="3.3" fill="none"/>
<circle cx="318.1" cy="2076.8" r="18.5" fill="#e2aa2e" stroke="#000" stroke-width="4.2"/>
<circle cx="529.4" cy="2098.1" r="18.5" fill="#b7be37" stroke="#000" stroke-width="4.2"/>
<circle cx="408.3" cy="2103.0" r="18.5" fill="#a5c63b" stroke="#000" stroke-width="4.2"/>
<circle cx="384.4" cy="2097.7" r="18.5" fill="#c1ba35" stroke="#000" stroke-width="4.2"/>
<circle cx="450.0" cy="2134.5" r="18.5" fill="#abc33a" stroke="#000" stroke-width="4.2"/>
<circle cx="456.6" cy="2137.3" r="18.5" fill="#abc33a" stroke="#000" stroke-width="4.2"/>
<circle cx="473.6" cy="2186.8" r="18.5" fill="#84d844" stroke="#000" stroke-width="4.2"/>
<circle cx="417.6" cy="2165.0" r="18.5" fill="#b0c138" stroke="#000" stroke-width="4.2"/>
<circle cx="435.4" cy="2170.0" r="18.5" fill="#abc33a" stroke="#000" stroke-width="4.2"/>
<circle cx="452.5" cy="2168.8" r="18.5" fill="#afc239" stroke="#000" stroke-width="4.2"/>
<circle cx="535.0" cy="2151.4" r="18.5" fill="#c8b633" stroke="#000" stroke-width="4.2"/>
<circle cx="451.0" cy="2084.7" r="18.5" fill="#84d844" stroke="#000" stroke-width="4.2"/>
<circle cx="462.7" cy="2073.8" r="18.5" fill="#a3c83c" stroke="#000" stroke-width="4.2"/>
<circle cx="479.2" cy="2152.0" r="18.5" fill="#b2c038" stroke="#000" stroke-width="4.2"/>
<circle cx="474.0" cy="2139.3" r="18.5" fill="#b6be37" stroke="#000" stroke-width="4.2"/>
<circle cx="467.0" cy="2147.5" r="18.5" fill="#d7af30" stroke="#000" stroke-width="4.2"/>
<path d="M301.3 2138.5h55.6M301.3 2129.2v18.5M356.9 2129.2v18.5" stroke="#000" stroke-width="3.3" fill="none"/>
<path d="M318.2 2163.7h55.6M318.2 2154.4v18.5M373.8 2154.4v18.5" stroke="#000" stroke-width="3.3" fill="none"/>
<path d="M356.6 2133.5h55.6M356.6 2124.2v18.5M412.2 2124.2v18.5" stroke="#000" stroke-width="3.3" fill="none"/>
<path d="M427.2 2155.0h55.6M427.2 2145.8v18.5M482.8 2145.8v18.5" stroke="#000" stroke-width="3.3" fill="none"/>
<path d="M390.2 2158.4h55.6M390.2 2149.2v18.5M445.8 2149.2v18.5" stroke="#000" stroke-width="3.3" fill="none"/>
<path d="M406.2 2136.0h55.6M406.2 2126.8v18.5M461.8 2126.8v18.5" stroke="#000" stroke-width="3.3" fill="none"/>
<path d="M412.2 2129.8h55.6M412.2 2120.6v18.5M467.8 2120.6v18.5" stroke="#000" stroke-width="3.3" fill="none"/>
<path d="M329.1 2120.0l18.5 18.5l-18.5 18.5l-18.5 -18.5z" fill="#a9c43a" stroke="#000" stroke-width="4.4"/>
<path d="M346.0 2145.2l18.5 18.5l-18.5 18.5l-18.5 -18.5z" fill="#a9c43a" stroke="#000" stroke-width="4.4"/>
<path d="M384.4 2115.0l18.5 18.5l-18.5 18.5l-18.5 -18.5z" fill="#a9c43a" stroke="#000" stroke-width="4.4"/>
<path d="M455.0 2136.5l18.5 18.5l-18.5 18.5l-18.5 -18.5z" fill="#adc239" stroke="#000" stroke-width="4.4"/>
<path d="M418.0 2139.9l18.5 18.5l-18.5 18.5l-18.5 -18.5z" fill="#abc33a" stroke="#000" stroke-width="4.4"/>
<path d="M434.0 2117.5l18.5 18.5l-18.5 18.5l-18.5 -18.5z" fill="#a0c93c" stroke="#000" stroke-width="4.4"/>
<path d="M440.0 2111.3l18.5 18.5l-18.5 18.5l-18.5 -18.5z" fill="#87d744" stroke="#000" stroke-width="4.4"/>
<path d="M485.1 1838.4 L484.7 1838.4 L484.6 1838.4 L484.6 1838.5 L484.5 1838.5 L484.3 1838.5 L484.2 1838.5 L484.1 1838.5 L483.9 1838.5 L483.7 1838.5 L483.4 1838.6 L483.1 1838.6 L482.8 1838.6 L482.4 1838.6 L482.0 1838.7 L481.5 1838.7 L480.9 1838.8 L480.2 1838.9 L479.3 1838.9 L478.4 1839.0 L477.3 1839.1 L476.1 1839.2 L474.7 1839.4 L473.0 1839.5 L471.1 1839.7 L469.0 1840.0 L466.5 1840.2 L463.8 1840.5 L460.7 1840.9 L457.2 1841.3 L453.3 1841.8 L448.9 1842.3 L444.2 1843.0 L439.0 1843.7 L433.4 1844.6 L427.4 1845.6 L421.0 1846.8 L414.2 1848.2 L407.2 1849.7 L400.0 1851.6 L392.7 1853.7 L385.4 1856.1 L378.1 1858.9 L371.0 1862.2 L364.1 1865.9 L357.4 1870.1 L351.1 1874.9 L345.3 1880.3 L339.8 1886.4 L334.7 1893.3 L330.1 1901.0 L325.9 1909.5 L322.2 1918.9 L318.8 1929.2 L315.8 1940.3 L313.2 1952.3 L310.8 1965.0 L308.8 1978.4 L307.0 1992.4 L305.4 2006.7 L304.0 2021.4 L302.8 2036.1 L301.8 2050.8 L300.9 2065.1 L300.1 2079.1 L299.5 2092.5 L298.9 2105.2 L298.4 2117.2 L298.0 2128.3 L297.6 2138.6 L297.3 2148.0 L297.0 2156.5 L296.8 2164.2 L296.6 2171.1 L296.4 2177.2 L296.3 2182.6 L296.2 2187.4 L296.0 2191.6 L296.0 2195.3 L295.9 2198.6 L295.8 2201.4 L295.7 2203.8 L295.7 2205.9 L295.7 2207.8 L295.6 2209.3 L295.6 2210.7 L295.6 2211.9 L295.5 2212.9 L295.5 2213.8 L295.5 2214.5 L295.5 2215.2 L295.5 2215.7 L295.5 2216.2 L295.5 2216.6 L295.4 2217.0 L295.4 2217.3 L295.4 2217.5 L295.4 2217.8 L295.4 2218.0 L295.4 2218.1 L295.4 2218.3 L295.4 2218.4 L295.4 2218.5 L295.4 2218.6 L295.4 2218.6 L295.4 2218.7 L295.4 2218.8 L295.4 2218.8 L295.4 2218.9 L295.4 2218.9 L295.4 2218.9 L295.4 2218.9 L295.4 2219.0 L295.4 2219.0 L295.4 2219.0 L295.4 2219.0 L295.4 2219.0 L295.4 2219.0 L295.4 2219.0 L295.4 2219.1 L295.4 2219.1 L295.4 2219.1" stroke="#2c1bfa" stroke-width="4.5" fill="none"/>
<path d="M485.1 1838.4 L485.1 1838.4 L485.1 1838.4 L485.1 1838.5 L485.1 1838.5 L485.1 1838.5 L485.1 1838.5 L485.0 1838.5 L485.0 1838.5 L485.0 1838.5 L485.0 1838.6 L484.9 1838.6 L484.9 1838.6 L484.9 1838.6 L484.8 1838.7 L484.8 1838.7 L484.7 1838.8 L484.7 1838.9 L484.6 1838.9 L484.5 1839.0 L484.4 1839.1 L484.2 1839.2 L484.1 1839.4 L483.9 1839.5 L483.7 1839.7 L483.5 1840.0 L483.3 1840.2 L483.0 1840.5 L482.7 1840.9 L482.3 1841.3 L481.9 1841.8 L481.4 1842.3 L480.9 1843.0 L480.4 1843.7 L479.8 1844.6 L479.1 1845.6 L478.4 1846.8 L477.7 1848.2 L476.9 1849.7 L476.0 1851.6 L475.2 1853.7 L474.3 1856.1 L473.4 1858.9 L472.5 1862.2 L471.7 1865.9 L470.9 1870.1 L470.0 1874.9 L469.3 1880.3 L468.6 1886.4 L467.9 1893.3 L467.3 1901.0 L466.7 1909.5 L466.2 1918.9 L465.7 1929.2 L465.3 1940.3 L465.0 1952.3 L464.6 1965.0 L464.3 1978.4 L464.1 1992.4 L463.9 2006.7 L463.7 2021.4 L463.5 2036.1 L463.4 2050.8 L463.2 2065.1 L463.1 2079.1 L463.0 2092.5 L462.9 2105.2 L462.9 2117.2 L462.8 2128.3 L462.8 2138.6 L462.7 2148.0 L462.7 2156.5 L462.6 2164.2 L462.6 2171.1 L462.6 2177.2 L462.6 2182.6 L462.5 2187.4 L462.5 2191.6 L462.5 2195.3 L462.5 2198.6 L462.5 2201.4 L462.5 2203.8 L462.5 2205.9 L462.5 2207.8 L462.5 2209.3 L462.5 2210.7 L462.5 2211.9 L462.5 2212.9 L462.4 2213.8 L462.4 2214.5 L462.4 2215.2 L462.4 2215.7 L462.4 2216.2 L462.4 2216.6 L462.4 2217.0 L462.4 2217.3 L462.4 2217.5 L462.4 2217.8 L462.4 2218.0 L462.4 2218.1 L462.4 2218.3 L462.4 2218.4 L462.4 2218.5 L462.4 2218.6 L462.4 2218.6 L462.4 2218.7 L462.4 2218.8 L462.4 2218.8 L462.4 2218.9 L462.4 2218.9 L462.4 2218.9 L462.4 2218.9 L462.4 2219.0 L462.4 2219.0 L462.4 2219.0 L462.4 2219.0 L462.4 2219.0 L462.4 2219.0 L462.4 2219.0 L462.4 2219.1 L462.4 2219.1 L462.4 2219.1" stroke="#2c1bfa" stroke-width="4.5" fill="none"/>
<path d="M485.1 1838.4 L485.1 1838.4 L485.1 1838.4 L485.1 1838.4 L485.1 1838.4 L485.1 1838.4 L485.1 1838.4 L485.1 1838.4 L485.1 1838.4 L485.1 1838.4 L485.2 1838.4 L485.2 1838.4 L485.2 1838.4 L485.2 1838.4 L485.2 1838.4 L485.2 1838.4 L485.2 1838.4 L485.2 1838.4 L485.2 1838.4 L485.2 1838.4 L485.2 1838.4 L485.2 1838.5 L485.2 1838.5 L485.2 1838.5 L485.2 1838.5 L485.2 1838.5 L485.2 1838.5 L485.2 1838.5 L485.2 1838.6 L485.2 1838.6 L485.3 1838.6 L485.3 1838.6 L485.3 1838.7 L485.3 1838.7 L485.4 1838.8 L485.4 1838.9 L485.4 1838.9 L485.5 1839.0 L485.5 1839.1 L485.6 1839.2 L485.7 1839.4 L485.8 1839.5 L485.9 1839.7 L486.0 1839.9 L486.1 1840.1 L486.3 1840.4 L486.5 1840.7 L486.7 1841.0 L486.9 1841.4 L487.2 1841.9 L487.6 1842.3 L488.0 1842.9 L488.5 1843.5 L489.0 1844.1 L489.6 1844.8 L490.4 1845.6 L491.2 1846.4 L492.2 1847.2 L493.3 1848.1 L494.6 1849.0 L496.1 1849.9 L497.8 1850.8 L499.8 1851.8 L502.0 1852.7 L504.6 1853.6 L507.5 1854.4 L510.7 1855.2 L514.4 1856.0 L518.4 1856.7 L523.0 1857.3 L527.9 1857.9 L533.3 1858.4 L539.2 1858.9 L545.5 1859.3 L552.2 1859.7 L559.2 1860.1 L566.5 1860.4 L574.0 1860.6 L581.7 1860.9 L589.3 1861.1 L596.9 1861.3 L604.4 1861.4 L611.6 1861.5 L618.5 1861.7 L625.0 1861.8 L631.2 1861.8 L636.9 1861.9 L642.2 1862.0 L647.0 1862.0 L651.3 1862.1 L655.3 1862.1 L658.8 1862.2 L661.9 1862.2 L664.7 1862.2 L667.1 1862.2 L669.3 1862.3 L671.1 1862.3 L672.8 1862.3 L674.2 1862.3 L675.4 1862.3 L676.5 1862.3 L677.4 1862.3 L678.3 1862.3 L678.9 1862.3 L679.5 1862.3 L680.1 1862.3 L680.5 1862.3 L680.9 1862.4 L681.2 1862.4 L681.5 1862.4 L681.7 1862.4 L681.9 1862.4 L682.1 1862.4 L682.3 1862.4 L682.4 1862.4 L682.5 1862.4 L682.6 1862.4 L682.7 1862.4 L682.8 1862.4 L682.8 1862.4 L682.9 1862.4 L683.2 1862.4" stroke="#eb3527" stroke-width="4.5" fill="none"/>
<circle cx="299.8" cy="2104.9" r="9.4" fill="#fff" stroke="#2c1bfa" stroke-width="4.3"/>
<circle cx="297.3" cy="2158.6" r="9.4" fill="#fff" stroke="#2c1bfa" stroke-width="4.3"/>
<circle cx="297.0" cy="2181.5" r="9.4" fill="#fff" stroke="#2c1bfa" stroke-width="4.3"/>
<circle cx="296.8" cy="2192.4" r="9.4" fill="#fff" stroke="#2c1bfa" stroke-width="4.3"/>
<circle cx="296.6" cy="2199.0" r="9.4" fill="#fff" stroke="#2c1bfa" stroke-width="4.3"/>
<circle cx="463.1" cy="2105.2" r="9.4" fill="#fff" stroke="#2c1bfa" stroke-width="4.3"/>
<circle cx="463.1" cy="2158.9" r="9.4" fill="#fff" stroke="#2c1bfa" stroke-width="4.3"/>
<circle cx="463.1" cy="2180.9" r="9.4" fill="#fff" stroke="#2c1bfa" stroke-width="4.3"/>
<circle cx="463.1" cy="2191.8" r="9.4" fill="#fff" stroke="#2c1bfa" stroke-width="4.3"/>
<circle cx="463.0" cy="2198.5" r="9.4" fill="#fff" stroke="#2c1bfa" stroke-width="4.3"/>
<text x="286.3" y="2111.8" font-size="27.4" fill="#2c1bfa" text-anchor="end" font-weight="bold" stroke="#fff" stroke-width="7" stroke-linejoin="round" paint-order="stroke">0.1</text>
<text x="280.3" y="2168.1" font-size="27.4" fill="#2c1bfa" text-anchor="end" font-weight="bold" stroke="#fff" stroke-width="7" stroke-linejoin="round" paint-order="stroke">0.2</text>
<rect x="280.4" y="2204.3" width="30.4" height="30.4" fill="#2c1bfa" stroke="#fff" stroke-width="14" paint-order="stroke"/>
<rect x="447.3" y="2204.3" width="30.4" height="30.4" fill="#2c1bfa" stroke="#fff" stroke-width="14" paint-order="stroke"/>
<rect x="469.8" y="1822.8" width="30.4" height="30.4" fill="#000" stroke="#fff" stroke-width="14" paint-order="stroke"/>
<rect x="669.1" y="1847.8" width="30.4" height="30.4" fill="#fb2d12" stroke="#fff" stroke-width="14" paint-order="stroke"/>
<text x="418.5" y="1805.7" font-size="37.5" fill="#000">Mantle</text>
<text x="643.2" y="1824.3" font-size="37.5" fill="#eb3527">AOC</text>
<text x="171.2" y="2277.0" font-size="37.5" fill="#2c1bfa">Weathered UCC</text>
<text x="494.0" y="2232.0" font-size="37.5" fill="#2c1bfa">UCC</text>
<path d="M184.6 1698.0v24.5M184.6 2389.3v-24.5M461.6 1698.0v24.5M461.6 2389.3v-24.5M738.6 1698.0v24.5M738.6 2389.3v-24.5M240.0 1698.0v12.2M240.0 2389.3v-12.2M295.4 1698.0v12.2M295.4 2389.3v-12.2M350.8 1698.0v12.2M350.8 2389.3v-12.2M406.2 1698.0v12.2M406.2 2389.3v-12.2M517.0 1698.0v12.2M517.0 2389.3v-12.2M572.4 1698.0v12.2M572.4 2389.3v-12.2M627.8 1698.0v12.2M627.8 2389.3v-12.2M683.2 1698.0v12.2M683.2 2389.3v-12.2M129.7 2248.4h24.5M795.4 2248.4h-24.5M129.7 2107.2h24.5M795.4 2107.2h-24.5M129.7 1966.0h24.5M795.4 1966.0h-24.5M129.7 1824.8h24.5M795.4 1824.8h-24.5M129.7 2319.0h12.2M795.4 2319.0h-12.2M129.7 2177.8h12.2M795.4 2177.8h-12.2M129.7 2036.6h12.2M795.4 2036.6h-12.2M129.7 1895.4h12.2M795.4 1895.4h-12.2M129.7 1754.2h12.2M795.4 1754.2h-12.2" stroke="#000" stroke-width="3.1" fill="none"/>
<rect x="129.7" y="1698.0" width="665.7" height="691.3" fill="none" stroke="#000" stroke-width="3.4"/>
<text x="184.6" y="2431.1" font-size="37" text-anchor="middle">−0.5</text>
<text x="461.6" y="2431.1" font-size="37" text-anchor="middle">0</text>
<text x="738.6" y="2431.1" font-size="37" text-anchor="middle">0.5</text>
<text x="116.5" y="2402.8" font-size="37" text-anchor="end">−30</text>
<text x="116.5" y="2261.6" font-size="37" text-anchor="end">−20</text>
<text x="116.5" y="2120.4" font-size="37" text-anchor="end">−10</text>
<text x="116.5" y="1979.2" font-size="37" text-anchor="end">0</text>
<text x="116.5" y="1838.0" font-size="37" text-anchor="end">10</text>
<text x="168.2" y="1769.6" font-size="44.4" font-weight="bold">C</text>
<text x="462.5" y="2488.8" font-size="37.2" font-weight="bold" text-anchor="middle">δ<tspan font-size="28" dy="-16.5">138/134</tspan><tspan dy="16.5">Ba [‰]</tspan></text>
<text transform="translate(38.8,2043.0) rotate(-90)" font-size="37.2" font-weight="bold" text-anchor="middle">ε<tspan font-size="28" dy="8.5">Nd</tspan><tspan dy="-8.5">(t)</tspan></text>
<rect x="823.4" y="1698.0" width="46.6" height="691.2" fill="url(#cb)" stroke="#000" stroke-width="3.4"/>
<path d="M870.0 1784.4h-12M870.0 1870.8h-24M870.0 1957.2h-12M870.0 2043.6h-24M870.0 2130.0h-12M870.0 2216.4h-24M870.0 2302.8h-12" stroke="#000" stroke-width="3.1" fill="none"/>
<text x="882.6" y="1711.0" font-size="37.3">0.712</text>
<text x="882.6" y="1883.8" font-size="37.3">0.710</text>
<text x="882.6" y="2056.6" font-size="37.3">0.708</text>
<text x="882.6" y="2229.4" font-size="37.3">0.706</text>
<text x="882.6" y="2402.2" font-size="37.3">0.704</text>
<text x="783.0" y="2454.4" font-size="37.2" font-weight="bold"><tspan font-size="28" dy="-16.5">87</tspan><tspan dy="16.5">Sr/</tspan><tspan font-size="28" dy="-16.5">86</tspan><tspan dy="16.5">Sr</tspan><tspan font-size="28" dy="8.5">(i)</tspan></text>
</svg></body></html>
